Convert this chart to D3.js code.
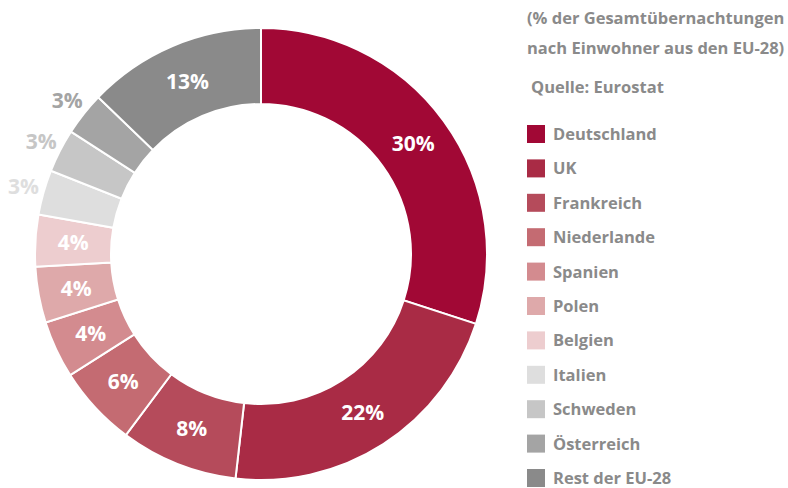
<!DOCTYPE html>
<html><head><meta charset="utf-8">
<script src="https://cdn.jsdelivr.net/npm/d3@7"></script>
<style>
html,body{margin:0;padding:0;background:#fff;}
svg{display:block;}
text{font-family:"Open Sans", Lato, sans-serif;font-weight:bold;}
</style></head>
<body>
<svg id="c" width="788" height="488"></svg>
<script>
const categories = ["Deutschland","UK","Frankreich","Niederlande","Spanien","Polen","Belgien","Italien","Schweden","Österreich","Rest der EU-28"];
const values = [30.0, 21.8, 8.4, 5.8, 4.1, 4.0, 3.7, 3.2, 3.1, 3.1, 12.8];
const colors = ["#a10835","#a92b45","#b54b5b","#c46b72","#d38b8f","#dea9aa","#edcdcf","#dedede","#c6c6c6","#a4a4a4","#8a8a8a"];
const outsideLabel = [false,false,false,false,false,false,false,true,true,true,false];
const titleLines = ["(% der Gesamtübernachtungen","nach Einwohner aus den EU-28)"];
const sourceText = "Quelle: Eurostat";

const svg = d3.select("#c");
const cx = 261, cy = 254, rOut = 226, rIn = 150, rLabel = 188, rOutLabel = 247;
const g = svg.append("g").attr("transform", `translate(${cx},${cy})`);
const data = categories.map((c,i)=>({name:c, value:values[i], color:colors[i], out:outsideLabel[i]}));
const pie = d3.pie().value(d=>d.value).sort(null);
const arc = d3.arc().innerRadius(rIn).outerRadius(rOut);
const arcs = pie(data);
g.selectAll("path").data(arcs).join("path")
  .attr("d", arc).attr("fill", d=>d.data.color)
  .attr("stroke","#fff").attr("stroke-width",2);
const fmt = v => Math.round(v) + "%";
const labelArc = d3.arc().innerRadius(rLabel).outerRadius(rLabel);
const outArc = d3.arc().innerRadius(rOutLabel).outerRadius(rOutLabel);
g.selectAll("text.lbl").data(arcs).join("text")
  .attr("class","lbl")
  .attr("transform", d => `translate(${(d.data.out?outArc:labelArc).centroid(d)})`)
  .attr("text-anchor","middle").attr("dy","0.36em")
  .attr("font-size",21)
  .attr("fill", d => d.data.out ? d.data.color : "#fff")
  .text(d => fmt(d.data.value));

// title
svg.selectAll("text.title").data(titleLines).join("text")
  .attr("class","title")
  .attr("x",527).attr("y",(d,i)=>24+i*30)
  .attr("font-size",16.5).attr("fill","#8a8a8a").text(d=>d);
svg.append("text").attr("x",531).attr("y",93).attr("font-size",16.5).attr("fill","#8a8a8a").text(sourceText);

// legend
const ly = d3.scalePoint().domain(categories).range([134,478]);
const leg = svg.selectAll("g.leg").data(data).join("g").attr("class","leg")
  .attr("transform", d=>`translate(527,${ly(d.name)})`);
leg.append("rect").attr("x",0).attr("y",-9).attr("width",18).attr("height",18).attr("fill",d=>d.color);
leg.append("text").attr("x",26).attr("y",0).attr("dy","0.36em").attr("font-size",16.5).attr("fill","#8a8a8a").text(d=>d.name);
</script>
</body></html>
